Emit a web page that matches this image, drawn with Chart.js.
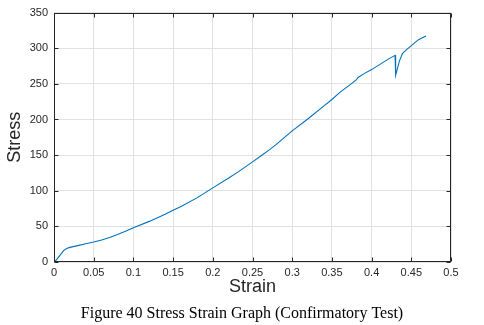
<!DOCTYPE html>
<html>
<head>
<meta charset="utf-8">
<script src="https://cdn.jsdelivr.net/npm/chart.js@4/dist/chart.umd.min.js"></script>
<style>
  html, body { margin: 0; padding: 0; background: #fff; }
  #wrap { width: 484px; height: 325px; }
</style>
</head>
<body>
<div id="wrap"><canvas id="c" width="484" height="325"></canvas></div>
<script>
// ---- data ----
const strain = [0, 0.003, 0.008, 0.012, 0.016, 0.02, 0.03, 0.04, 0.05, 0.06, 0.07, 0.08, 0.09, 0.1,
  0.12, 0.14, 0.15, 0.16, 0.18, 0.2, 0.22, 0.232, 0.25, 0.26, 0.272, 0.28, 0.3, 0.32, 0.34, 0.35,
  0.36, 0.373, 0.381, 0.383, 0.39, 0.4, 0.41, 0.42, 0.4295, 0.4303, 0.435, 0.439, 0.444, 0.4505, 0.459, 0.4685];
const stress = [0, 3, 10, 16, 19, 20.5, 23, 25.5, 28, 31, 34.5, 38.5, 43, 48,
  57, 67, 72.5, 78, 90, 104, 118, 126.5, 140.5, 148.5, 158, 165, 184, 201, 219, 228,
  238, 249, 256, 259, 264, 270, 277, 284, 290, 262, 282, 293, 298, 304, 312, 317];
const xTicks = [0, 0.05, 0.1, 0.15, 0.2, 0.25, 0.3, 0.35, 0.4, 0.45, 0.5];
const yTicks = [0, 50, 100, 150, 200, 250, 300, 350];
const xLabel = 'Strain';
const yLabel = 'Stress';
const caption = 'Figure 40 Stress Strain Graph (Confirmatory Test)';

const points = strain.map((s, i) => ({ x: s, y: stress[i] }));
const textColor = '#262626';
const sans = "'Liberation Sans', Arial, sans-serif";

const frame = {
  id: 'frame',
  afterLayout(chart) {
    // centre the caption on the full canvas width
    if (chart.titleBlock) {
      chart.titleBlock.left = 0;
      chart.titleBlock.right = chart.width;
      chart.titleBlock.width = chart.width;
    }
  },
  afterDraw(chart) {
    const { ctx, chartArea: { left, right, top, bottom }, scales: { x, y } } = chart;
    ctx.save();
    ctx.strokeStyle = textColor;
    ctx.lineWidth = 1;
    const L = Math.round(left) + 0.5, R = Math.round(right) - 0.5;
    const T = Math.round(top) + 0.5, B = Math.round(bottom) - 0.5;
    ctx.strokeRect(L, T, R - L, B - T);
    const tl = 4;
    ctx.beginPath();
    x.ticks.forEach(t => {
      const px = Math.round(x.getPixelForValue(t.value)) + 0.5;
      ctx.moveTo(px, B); ctx.lineTo(px, B - tl);
      ctx.moveTo(px, T); ctx.lineTo(px, T + tl);
    });
    y.ticks.forEach(t => {
      const py = Math.round(y.getPixelForValue(t.value)) + 0.5;
      ctx.moveTo(L, py); ctx.lineTo(L + tl, py);
      ctx.moveTo(R, py); ctx.lineTo(R - tl, py);
    });
    ctx.stroke();
    ctx.restore();
  }
};

new Chart(document.getElementById('c'), {
  type: 'scatter',
  data: {
    datasets: [{
      data: points,
      showLine: true,
      borderColor: '#0072BD',
      borderWidth: 1.1,
      pointRadius: 0,
      tension: 0,
      fill: false
    }]
  },
  options: {
    responsive: false,
    animation: false,
    devicePixelRatio: 1,
    layout: { padding: { top: 12, right: 33, left: 0, bottom: 0 } },
    plugins: {
      legend: { display: false },
      tooltip: { enabled: false },
      title: {
        display: true,
        position: 'bottom',
        text: caption,
        color: '#000',
        font: { family: "'Liberation Serif', 'Times New Roman', serif", size: 16, weight: 'normal' },
        padding: { top: 0, bottom: 2 }
      }
    },
    scales: {
      x: {
        type: 'linear',
        min: 0, max: 0.5,
        afterBuildTicks: s => { s.ticks = xTicks.map(v => ({ value: v })); },
        afterFit: s => { s.height = 41.8; },
        grid: { color: '#e2e2e2', drawTicks: false, lineWidth: 1 },
        border: { display: false },
        ticks: {
          color: textColor,
          font: { family: sans, size: 11 },
          padding: 4,
          maxRotation: 0,
          autoSkip: false,
          callback: v => String(Number(v.toFixed(2)))
        },
        title: {
          display: true, text: xLabel, color: textColor,
          font: { family: sans, size: 18 },
          padding: { top: 0, bottom: 6 }
        }
      },
      y: {
        type: 'linear',
        min: 0, max: 350,
        afterBuildTicks: s => { s.ticks = yTicks.map(v => ({ value: v })); },
        afterFit: s => { s.width = 54; },
        grid: { color: '#e2e2e2', drawTicks: false, lineWidth: 1 },
        border: { display: false },
        ticks: {
          color: textColor,
          font: { family: sans, size: 11 },
          padding: 6,
          autoSkip: false,
          callback: v => String(v)
        },
        title: {
          display: true, text: yLabel, color: textColor,
          font: { family: sans, size: 18 },
          padding: { top: 4, bottom: 0 }
        }
      }
    }
  },
  plugins: [frame]
});
</script>
</body>
</html>
